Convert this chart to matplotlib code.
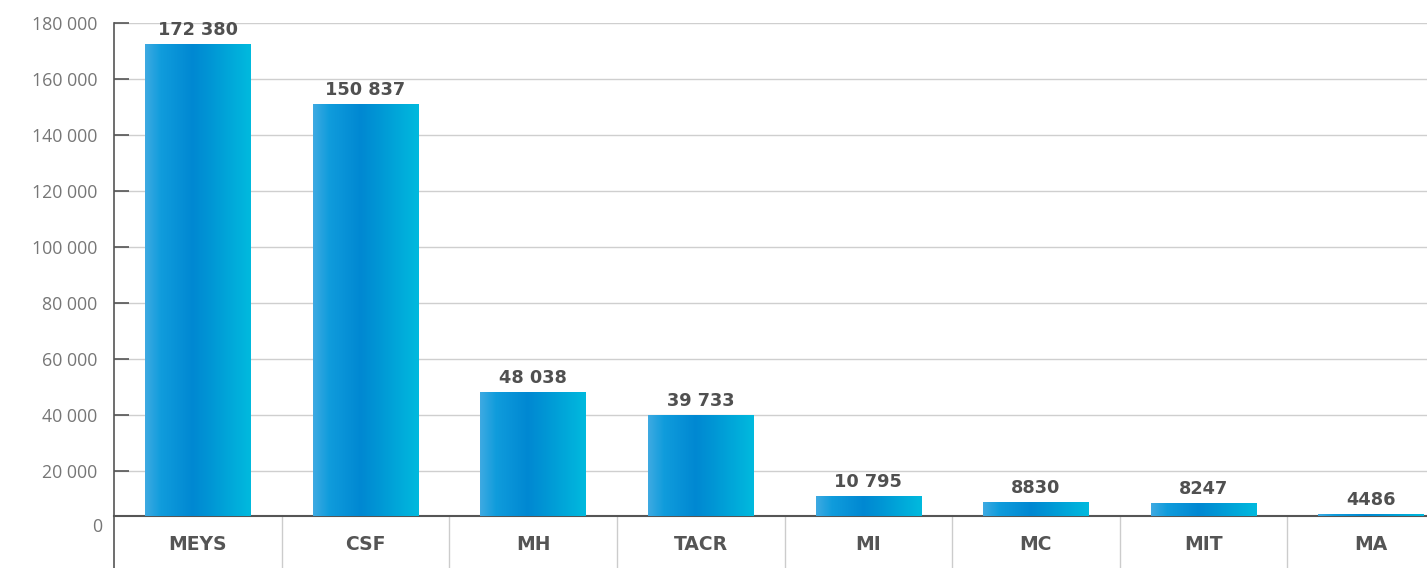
import numpy as np
import matplotlib
matplotlib.use("Agg")
import matplotlib.pyplot as plt
from matplotlib.colors import LinearSegmentedColormap
from matplotlib.transforms import blended_transform_factory

# data
categories = ["MEYS", "CSF", "MH", "TACR", "MI", "MC", "MIT", "MA"]
values = [172380, 150837, 48038, 39733, 10795, 8830, 8247, 4486]
y_ticks = [20000, 40000, 60000, 80000, 100000, 120000, 140000, 160000, 180000]


def fmt(v):
    # space as thousands separator, only for 5+ digits
    if v >= 10000:
        return "{:,}".format(v).replace(",", " ")
    return str(v)


plt.rcParams['font.family'] = ['Open Sans', 'DejaVu Sans']

bar_cmap = LinearSegmentedColormap.from_list(
    "bar", [(0.0, "#3eaae2"), (0.15, "#109cdc"), (0.45, "#0088d2"),
            (0.62, "#0096d5"), (1.0, "#00bade")])

W, H = 1427, 568
fig = plt.figure(figsize=(W / 100, H / 100), dpi=100)
ax = fig.add_axes([114 / W, (H - 516) / H, 1341 / W, 493 / H])

base = 3929   # value where the baseline sits (the "0" label is drawn a bit lower)
bar_w = 0.63
grad = np.linspace(0, 1, 256).reshape(1, -1)

for i, v in enumerate(values):
    ax.imshow(grad, cmap=bar_cmap, aspect="auto", interpolation="bilinear",
              extent=[i - bar_w / 2, i + bar_w / 2, base, v], zorder=3)
    ax.annotate(fmt(v), (i, v), xytext=(0, 4), textcoords="offset points",
                ha="center", va="bottom", fontsize=12.8, fontweight="bold",
                family="DejaVu Sans", color="#505050", zorder=4)

ax.set_xlim(-0.5, len(categories) - 0.5)
ax.set_ylim(base, 180000)

ax.set_yticks(y_ticks)
ax.set_yticklabels([fmt(t) for t in y_ticks])
ax.tick_params(axis="y", direction="in", length=11, width=1.2, color="#555555",
               labelsize=12.8, labelcolor="#767676", pad=12)
ax.grid(axis="y", color="#cfcfcf", linewidth=1, zorder=0)
ax.set_axisbelow(True)

trans = blended_transform_factory(ax.transAxes, ax.transData)
ax.text(-12 / 1341, 0, "0", transform=trans, ha="right", va="center",
        fontsize=12.8, color="#767676", clip_on=False)

ax.set_xticks(range(len(categories)))
ax.set_xticklabels(categories)
ax.tick_params(axis="x", length=0, pad=14, labelsize=13.5, labelcolor="#555555")
for lab in ax.get_xticklabels():
    lab.set_fontweight("bold")
    lab.set_family("DejaVu Sans")

for s in ["top", "right"]:
    ax.spines[s].set_visible(False)
ax.spines["left"].set_color("#555555")
ax.spines["bottom"].set_color("#555555")
ax.spines["left"].set_linewidth(1.2)
ax.spines["bottom"].set_linewidth(1.5)

# separators below the baseline
tr_x = blended_transform_factory(ax.transData, ax.transAxes)
bounds = np.arange(len(categories) + 1) - 0.5
ax.vlines(bounds[1:], -60 / 493, 0, transform=tr_x, colors="#cccccc",
          linewidth=1, clip_on=False)
ax.vlines([bounds[0]], -60 / 493, 0, transform=tr_x, colors="#555555",
          linewidth=1.2, clip_on=False)

fig.savefig("out.png", dpi=100)
